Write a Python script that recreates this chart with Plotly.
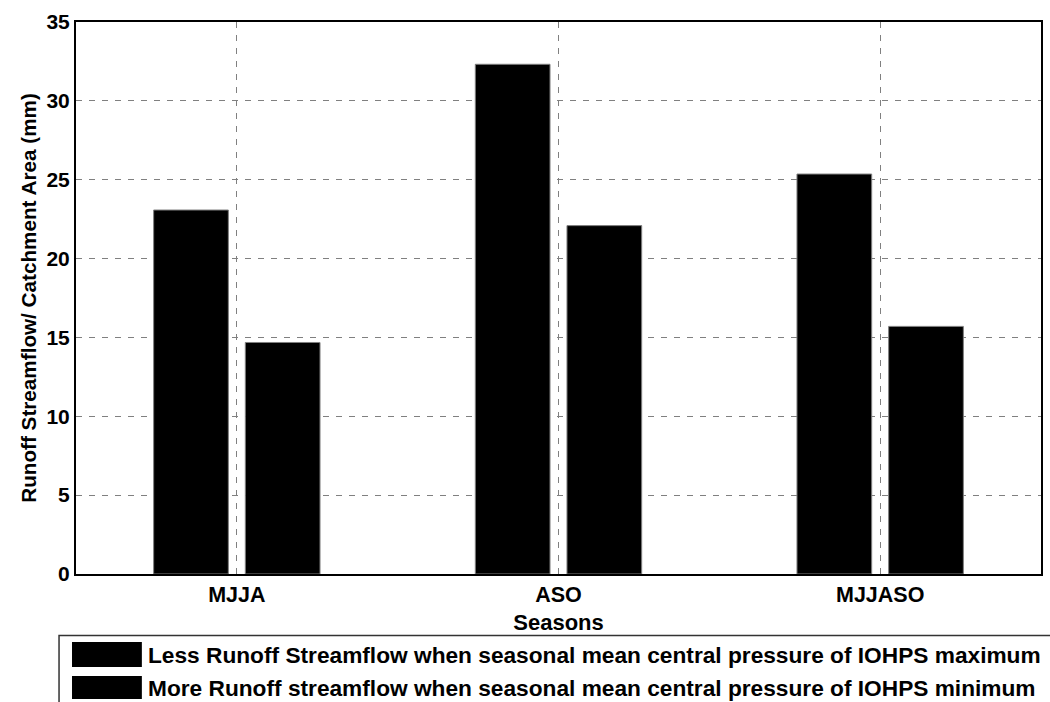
import plotly.graph_objects as go

seasons = ["MJJA", "ASO", "MJJASO"]
less_runoff = [23.08, 32.32, 25.36]
more_runoff = [14.68, 22.09, 15.70]
series_names = [
    "Less Runoff Streamflow when seasonal mean central pressure of IOHPS maximum",
    "More Runoff streamflow when seasonal mean central pressure of IOHPS minimum",
]
y_ticks = [0, 5, 10, 15, 20, 25, 30, 35]

W, H = 1050, 702
L, R, T, B = 76, 7, 22, 128
pw, ph = W - L - R, H - T - B

def px(x):
    return (x - L) / pw

def py(y):
    return (H - B - y) / ph

FAM = "Arial, Liberation Sans, sans-serif"
font = dict(family=FAM, size=20, color="black")

fig = go.Figure()
for name, vals in zip(series_names, [less_runoff, more_runoff]):
    fig.add_trace(go.Bar(
        x=seasons, y=vals, name=name,
        marker=dict(color="black", line=dict(color="#808080", width=1)),
        showlegend=False,
    ))

grid = dict(showgrid=True, gridcolor="#808080", gridwidth=1, griddash="6px,7px")

fig.update_layout(
    width=W, height=H,
    margin=dict(l=L, r=R, t=T, b=B),
    paper_bgcolor="white", plot_bgcolor="white",
    barmode="group", bargap=0.43, bargroupgap=0.185,
    font=font,
    xaxis=dict(
        range=[-0.5, 2.5], **grid,
        showline=True, linecolor="black", linewidth=2, mirror=True,
        ticks="", tickfont=dict(family=FAM, size=21.5, color="black", weight="bold"),
        title=dict(text="<b>Seasons</b>", standoff=9, font=dict(family=FAM, size=22)),
    ),
    yaxis=dict(
        range=[0, 35], tickvals=y_ticks, **grid,
        showline=True, linecolor="black", linewidth=2, mirror=True,
        zeroline=False, ticks="",
        tickfont=dict(family=FAM, size=21, color="black", weight="bold"),
        title=dict(text="<b>Runoff Streamflow/ Catchment Area (mm)</b>", standoff=4,
                   font=dict(family=FAM, size=20.7)),
    ),
)

# legend box drawn manually
shapes = [dict(type="rect", xref="paper", yref="paper",
               x0=px(59), x1=px(1060), y0=py(635.5), y1=py(720),
               line=dict(color="#333333", width=1.5), fillcolor="rgba(0,0,0,0)")]
legend_rows = [(642, 667), (676, 699)]
annotations = []
for (y0, y1), name in zip(legend_rows, series_names):
    shapes.append(dict(type="rect", xref="paper", yref="paper",
                       x0=px(72), x1=px(142), y0=py(y0), y1=py(y1),
                       line=dict(color="black", width=0), fillcolor="black"))
    annotations.append(dict(xref="paper", yref="paper", x=px(146), y=py((y0 + y1) / 2),
                            xanchor="left", yanchor="middle", showarrow=False,
                            text="<b>" + name + "</b>",
                            font=dict(family=FAM, size=22.7, color="black")))
fig.update_layout(shapes=shapes, annotations=annotations)

fig.write_html("out.html")
